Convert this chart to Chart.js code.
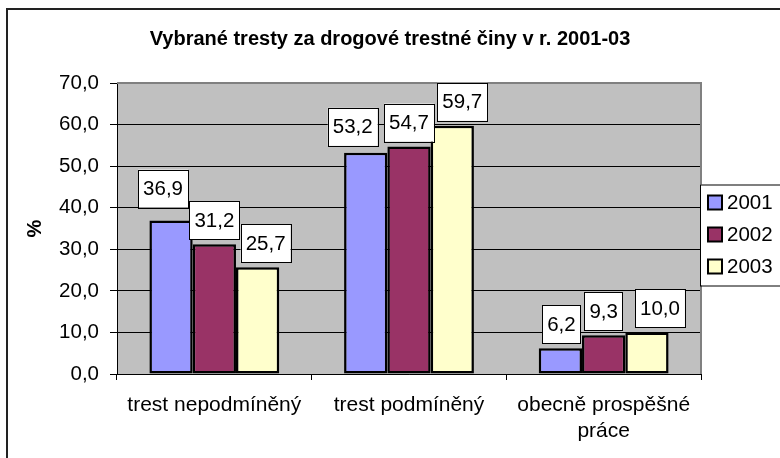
<!DOCTYPE html>
<html>
<head>
<meta charset="utf-8">
<script src="https://cdn.jsdelivr.net/npm/chart.js@4/dist/chart.umd.min.js"></script>
<style>
  html, body { margin: 0; padding: 0; background: #fff; }
  #wrap { width: 780px; height: 458px; }
</style>
</head>
<body>
<div id="wrap"><canvas id="chart1" width="780" height="458"></canvas></div>
<script>
const categories = ['trest nepodmíněný', 'trest podmíněný', ['obecně prospěšné', 'práce']];
const years = ['2001', '2002', '2003'];
const values2001 = [36.9, 53.2, 6.2];
const values2002 = [31.2, 54.7, 9.3];
const values2003 = [25.7, 59.7, 10.0];
const yTicks = [0, 10, 20, 30, 40, 50, 60, 70];

const colors = ['#9999FF', '#993366', '#FFFFCC'];
// how far Excel pushed each label box from its bar (dx, extra gap)
const labelShift = [
    [[-8, 8], [-13, 2], [1, 0]],
    [[0, 0], [0, 0], [0, 0]],
    [[8, 0], [10, 0], [13, 0]]
];

const fmt = v => v.toFixed(1).replace('.', ',');
const FONT = "'Liberation Sans', Arial, sans-serif";

const plotBg = {
    id: 'plotBg',
    beforeDraw(chart) {
        const ctx = chart.ctx;
        const a = chart.chartArea;
        ctx.save();
        ctx.fillStyle = '#fff';
        ctx.fillRect(0, 0, chart.width, chart.height);
        ctx.strokeStyle = '#222';
        ctx.lineWidth = 2;
        ctx.strokeRect(7, 9, chart.width + 20, chart.height + 20);
        ctx.fillStyle = '#C0C0C0';
        ctx.fillRect(a.left, a.top, a.right - a.left, a.bottom - a.top);
        ctx.restore();
    },
    beforeDatasetsDraw(chart) {
        const ctx = chart.ctx;
        const a = chart.chartArea;
        ctx.save();
        ctx.strokeStyle = '#808080';
        ctx.lineWidth = 2;
        ctx.beginPath();
        ctx.moveTo(a.left, a.top);
        ctx.lineTo(a.right, a.top);
        ctx.lineTo(a.right, a.bottom);
        ctx.stroke();
        ctx.restore();
    }
};

const boxLabels = {
    id: 'boxLabels',
    afterDatasetsDraw(chart) {
        const ctx = chart.ctx;
        ctx.save();
        ctx.font = '20.5px ' + FONT;
        ctx.textAlign = 'center';
        ctx.textBaseline = 'middle';
        chart.data.datasets.forEach((ds, i) => {
            chart.getDatasetMeta(i).data.forEach((bar, j) => {
                const txt = fmt(ds.data[j]);
                const w = ctx.measureText(txt).width + 10;
                const h = 38;
                const cx = bar.x + labelShift[i][j][0];
                const bottom = bar.y - 5 - labelShift[i][j][1];
                ctx.fillStyle = '#fff';
                ctx.fillRect(cx - w / 2, bottom - h, w, h);
                ctx.strokeStyle = '#000';
                ctx.lineWidth = 1;
                ctx.strokeRect(Math.round(cx - w / 2) + 0.5, Math.round(bottom - h) + 0.5, Math.round(w), h);
                ctx.fillStyle = '#000';
                ctx.fillText(txt, cx, bottom - h / 2 + 1);
            });
        });
        ctx.restore();
    }
};

const boxLegend = {
    id: 'boxLegend',
    afterDraw(chart) {
        const ctx = chart.ctx;
        const a = chart.chartArea;
        const mid = (a.top + a.bottom) / 2 + 6;
        const rowH = 32;
        const left = a.right - 1;
        ctx.save();
        ctx.fillStyle = '#fff';
        ctx.fillRect(left, mid - 50, 120, 101);
        ctx.strokeStyle = '#000';
        ctx.lineWidth = 1;
        ctx.strokeRect(left + 0.5, mid - 50 + 0.5, 120, 101);
        ctx.font = '20.5px ' + FONT;
        ctx.textAlign = 'left';
        ctx.textBaseline = 'middle';
        chart.data.datasets.forEach((ds, i) => {
            const y = mid + (i - 1) * rowH;
            ctx.fillStyle = ds.backgroundColor;
            ctx.fillRect(left + 8, y - 7, 14, 14);
            ctx.strokeStyle = '#000';
            ctx.lineWidth = 2;
            ctx.strokeRect(left + 8, y - 7, 14, 14);
            ctx.fillStyle = '#000';
            ctx.fillText(ds.label, left + 27, y + 1);
        });
        ctx.restore();
    }
};

const data = {
    labels: categories,
    datasets: [values2001, values2002, values2003].map((vals, i) => ({
        label: years[i],
        data: vals,
        backgroundColor: colors[i],
        borderColor: '#000',
        borderWidth: 2.5,
        borderSkipped: false,
        categoryPercentage: 0.667,
        barPercentage: 1.0
    }))
};

const config = {
    type: 'bar',
    data: data,
    options: {
        responsive: false,
        animation: false,
        layout: {
            padding: 0
        },
        plugins: {
            legend: { display: false },
            tooltip: { enabled: false },
            title: {
                display: true,
                text: 'Vybrané tresty za drogové trestné činy v r. 2001-03',
                color: '#000',
                font: { family: FONT, size: 20, weight: 'bold' },
                padding: { top: 27, bottom: 32 }
            }
        },
        scales: {
            x: {
                afterFit(scale) { scale.height = 84; },
                grid: {
                    offset: true,
                    drawOnChartArea: false,
                    drawTicks: true,
                    tickLength: 6,
                    color: '#000'
                },
                border: { display: true, color: '#000', width: 1 },
                ticks: {
                    color: '#000',
                    padding: 13,
                    maxRotation: 0,
                    font: { family: FONT, size: 21, lineHeight: 1.2 }
                }
            },
            y: {
                min: 0,
                max: 70,
                afterFit(scale) { scale.width = 117; },
                afterBuildTicks(scale) { scale.ticks = yTicks.map(v => ({ value: v })); },
                grid: {
                    color: '#000',
                    lineWidth: 1,
                    tickLength: 7
                },
                border: { display: true, color: '#000', width: 1 },
                ticks: {
                    color: '#000',
                    padding: 11,
                    font: { family: FONT, size: 20.5 },
                    callback: v => fmt(v)
                },
                title: {
                    display: true,
                    text: '%',
                    color: '#000',
                    font: { family: FONT, size: 20, weight: 'bold' },
                    padding: { top: 23, bottom: 0 }
                }
            },
            // empty right-hand strip that leaves room for the legend box
            legendSpace: {
                type: 'linear',
                position: 'right',
                afterFit(scale) { scale.width = 79; },
                grid: { display: false },
                border: { display: false },
                ticks: { display: false }
            }
        }
    },
    plugins: [plotBg, boxLabels, boxLegend]
};

const barChart = new Chart(document.getElementById('chart1'), config);
</script>
</body>
</html>
